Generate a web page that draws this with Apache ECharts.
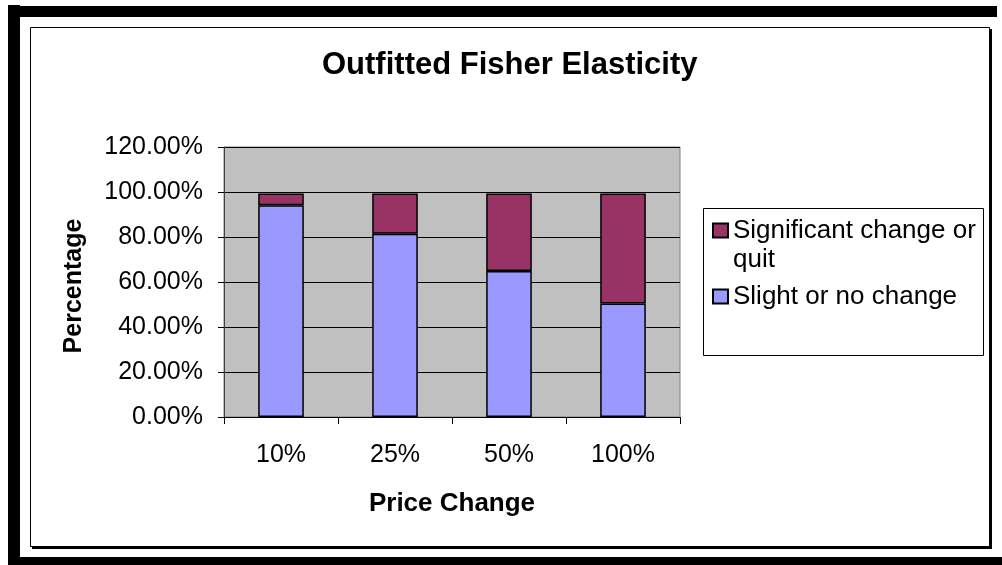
<!DOCTYPE html>
<html>
<head>
<meta charset="utf-8">
<title>Outfitted Fisher Elasticity</title>
<script src="https://cdn.jsdelivr.net/npm/echarts@6/dist/echarts.min.js"></script>
<style>
  html, body { margin: 0; padding: 0; background: #ffffff; }
  #chart { width: 1002px; height: 565px; }
</style>
</head>
<body>
<div id="chart"></div>
<script>
// Price-change scenarios and the share of outfitted fishers in each response group (percent)
const categories = ['10%', '25%', '50%', '100%'];
const slightOrNoChange = [94.1, 81.5, 64.9, 50.5];
const significantOrQuit = [5.2, 17.8, 34.4, 48.8];
const yTicks = { min: 0, max: 120, step: 20 };

const SLIGHT = 'Slight or no change';
const SIGNIFICANT = 'Significant change or quit';
const FONT = '"Liberation Sans", Arial, sans-serif';

const chart = echarts.init(document.getElementById('chart'), null, { renderer: 'canvas' });

chart.setOption({
  backgroundColor: '#ffffff',
  animation: false,
  graphic: [
    // heavy black strips along the left, top and bottom edges
    { type: 'rect', z: -10, shape: { x: 8, y: 5, width: 12, height: 560 }, style: { fill: '#000' } },
    { type: 'rect', z: -10, shape: { x: 8, y: 6, width: 989, height: 11 }, style: { fill: '#000' } },
    { type: 'rect', z: -10, shape: { x: 8, y: 557, width: 994, height: 8 }, style: { fill: '#000' } },
    // chart-area frame with a small drop shadow
    { type: 'rect', z: -9, shape: { x: 32, y: 29, width: 960, height: 520 }, style: { fill: '#000' } },
    { type: 'rect', z: -8, shape: { x: 30.5, y: 27.5, width: 959, height: 519 }, style: { fill: '#fff', stroke: '#000', lineWidth: 1 } },
    // legend box
    { type: 'rect', z: -7, shape: { x: 703.5, y: 208.5, width: 280, height: 147 }, style: { fill: '#fff', stroke: '#000', lineWidth: 1 } }
  ],
  title: {
    text: 'Outfitted Fisher Elasticity',
    left: 322,
    top: 50,
    padding: 0,
    textStyle: { fontFamily: FONT, fontSize: 31, fontWeight: 'bold', color: '#000', lineHeight: 31 }
  },
  legend: {
    orient: 'vertical',
    left: 712,
    top: 187,
    padding: 0,
    itemWidth: 15,
    itemHeight: 14,
    itemGap: 8,
    icon: 'rect',
    textStyle: { fontFamily: FONT, fontSize: 26, lineHeight: 29, color: '#000' },
    data: [SIGNIFICANT, SLIGHT],
    // the long label wraps onto a second line; the leading blank line keeps
    // its first line level with the swatch
    formatter: function (name) {
      return name === SIGNIFICANT ? '\nSignificant change or\nquit' : name;
    }
  },
  grid: {
    left: 224, right: 322, top: 147, bottom: 148,
    show: true,
    backgroundColor: '#C0C0C0',
    borderColor: '#808080',
    borderWidth: 1
  },
  xAxis: {
    type: 'category',
    data: categories,
    name: 'Price Change',
    nameLocation: 'middle',
    nameGap: 74,
    nameTextStyle: { fontFamily: FONT, fontSize: 26, fontWeight: 'bold', color: '#000', lineHeight: 26 },
    axisLine: { show: true, lineStyle: { color: '#000', width: 1 } },
    axisTick: { show: true, length: 7, lineStyle: { color: '#000' } },
    axisLabel: { fontFamily: FONT, fontSize: 25, color: '#000', margin: 26, lineHeight: 25 },
    splitLine: { show: false }
  },
  yAxis: {
    type: 'value',
    min: yTicks.min,
    max: yTicks.max,
    interval: yTicks.step,
    name: 'Percentage',
    nameLocation: 'middle',
    nameGap: 137,
    nameTextStyle: { fontFamily: FONT, fontSize: 25, fontWeight: 'bold', color: '#000', padding: [0, 8, 0, 0] },
    axisLine: { show: true, lineStyle: { color: '#404040', width: 1 } },
    axisTick: { show: true, length: 6, lineStyle: { color: '#000' } },
    axisLabel: {
      fontFamily: FONT, fontSize: 25, color: '#000', margin: 21,
      formatter: function (v) { return v.toFixed(2) + '%'; }
    },
    splitLine: { show: true, lineStyle: { color: '#000', width: 1 } }
  },
  series: [
    {
      name: SLIGHT,
      type: 'bar',
      stack: 'share',
      barWidth: '40%',
      data: slightOrNoChange,
      itemStyle: { color: '#9999FF', borderColor: '#000', borderWidth: 1.5 }
    },
    {
      name: SIGNIFICANT,
      type: 'bar',
      stack: 'share',
      barWidth: '40%',
      data: significantOrQuit,
      itemStyle: { color: '#993366', borderColor: '#000', borderWidth: 1.5 }
    }
  ]
});
</script>
</body>
</html>
